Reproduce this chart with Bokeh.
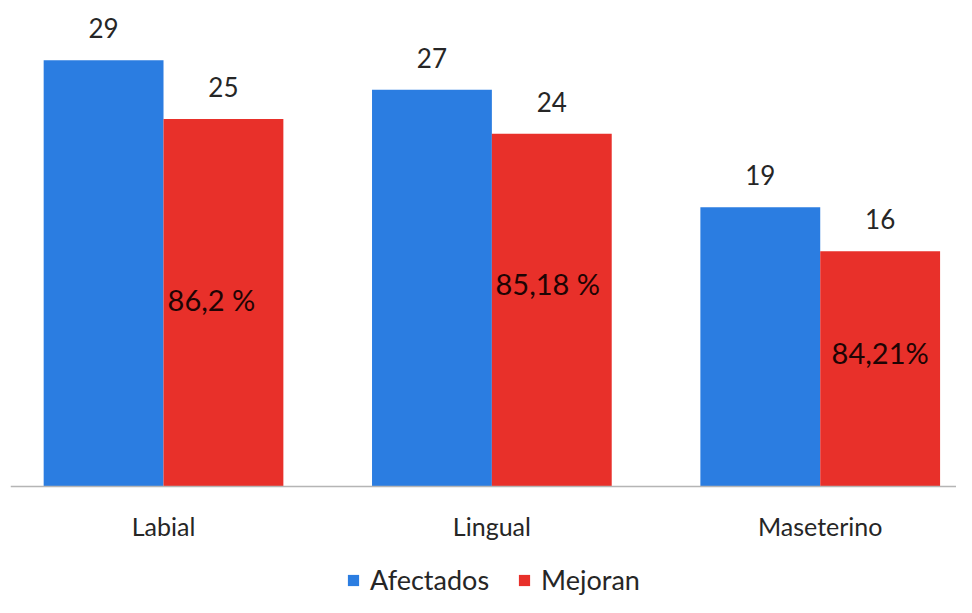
from bokeh.plotting import figure
from bokeh.models import ColumnDataSource, Range1d, FixedTicker, Legend, LegendItem
from bokeh.core.properties import value
from bokeh.embed import file_html
from bokeh.resources import INLINE

# ---- data ----
categories = ["Labial", "Lingual", "Maseterino"]
afectados = [29, 27, 19]
mejoran = [25, 24, 16]
porcentajes = ["86,2 %", "85,18 %", "84,21%"]

# ---- styling ----
BLUE = "#2B7DE1"
RED = "#E8302A"
FONT = "Lato"
W = 0.365
pct_frac = [0.51, 0.575, 0.57]
pct_dx = [-12, -4, 0]

centers = [i + 0.5 for i in range(len(categories))]
xa = [c - W / 2 for c in centers]
xm = [c + W / 2 for c in centers]

src_a = ColumnDataSource(dict(x=xa, top=afectados, lab=[str(v) for v in afectados]))
src_m = ColumnDataSource(dict(x=xm, top=mejoran, lab=[str(v) for v in mejoran],
                              py=[v * f for v, f in zip(mejoran, pct_frac)], pct=porcentajes,
                              dx=pct_dx))

p = figure(width=956, height=597, output_backend="svg", toolbar_location=None,
           x_range=Range1d(0.034, 2.915), y_range=Range1d(-7.55, 32.52),
           min_border_left=10, min_border_right=0, min_border_top=8, min_border_bottom=0)
p.outline_line_color = None
p.grid.visible = False
p.yaxis.visible = False

ra = p.vbar(x="x", top="top", width=W, source=src_a, fill_color=BLUE, line_color=None)
rm = p.vbar(x="x", top="top", width=W, source=src_m, fill_color=RED, line_color=None)

p.text(x="x", y="top", text="lab", source=src_a, text_align="center", text_baseline="middle",
       y_offset=-32, text_font=value(FONT), text_font_size="26px", text_color="#262626")
p.text(x="x", y="top", text="lab", source=src_m, text_align="center", text_baseline="middle",
       y_offset=-32, text_font=value(FONT), text_font_size="26px", text_color="#262626")
p.text(x="x", y="py", text="pct", source=src_m, text_align="center", text_baseline="middle",
       x_offset="dx", text_font=value(FONT), text_font_size="29px", text_color="#1e0404")

ax = p.xaxis[0]
ax.fixed_location = 0
ax.ticker = FixedTicker(ticks=centers)
ax.major_label_overrides = {c: n for c, n in zip(centers, categories)}
ax.major_tick_line_color = None
ax.minor_tick_line_color = None
ax.axis_line_color = "#b5b5b5"
ax.axis_line_width = 1.5
ax.major_label_standoff = 18
ax.major_label_text_font = FONT
ax.major_label_text_font_size = "25px"
ax.major_label_text_color = "#262626"

legend = Legend(items=[LegendItem(label="Afectados", renderers=[ra]),
                       LegendItem(label="Mejoran", renderers=[rm])],
                orientation="horizontal", location=(336, 1),
                glyph_width=14, glyph_height=14, label_standoff=10, spacing=28,
                padding=0, margin=0, border_line_color=None, background_fill_alpha=0,
                label_text_font=FONT, label_text_font_size="27px", label_text_color="#262626")
p.add_layout(legend, "center")

open("out.html", "w").write(file_html(p, INLINE))
